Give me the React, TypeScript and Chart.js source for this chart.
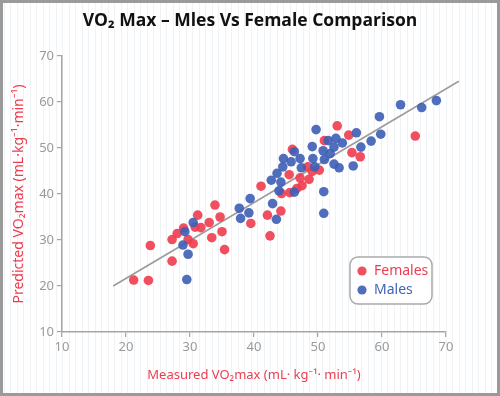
import { useEffect, useRef } from "react";
import { Chart, registerables } from "chart.js";

Chart.register(...registerables);

const TITLE = "VO₂ Max – Mles Vs Female Comparison";
const X_TITLE = "Measured VO₂max (mL· kg⁻¹· min⁻¹)";
const Y_TITLE = "Predicted VO₂max (mL·kg⁻¹·min⁻¹)";
const FEMALE_LABEL = "Females";
const MALE_LABEL = "Males";

const X_TICKS = [10, 20, 30, 40, 50, 60, 70];
const Y_TICKS = [10, 20, 30, 40, 50, 60, 70];

const femalesX = [21.2, 23.5, 23.8, 27.2, 27.2, 28.0, 29.0, 29.7, 30.5, 30.8, 31.2, 31.7, 33.0, 33.4, 33.9, 34.7, 35.0, 35.4, 39.5, 41.1, 42.1, 42.5, 44.2, 44.3, 45.6, 46.7, 47.5, 48.6, 47.2, 45.5, 48.4, 49.1, 50.2, 46.0, 51.0, 53.0, 54.8, 55.3, 56.6, 65.2];
const femalesY = [21.3, 21.2, 28.8, 25.4, 30.1, 31.4, 32.6, 30.1, 29.2, 32.8, 35.4, 32.7, 33.8, 30.5, 37.6, 35.0, 31.8, 27.9, 33.6, 41.7, 35.4, 30.9, 36.3, 40.1, 40.3, 41.2, 41.8, 43.2, 43.5, 44.2, 45.9, 44.9, 45.2, 49.7, 51.6, 54.8, 52.8, 49.0, 48.1, 52.6];

const malesX = [29.5, 29.7, 28.9, 29.2, 30.5, 37.7, 37.9, 39.2, 39.4, 42.7, 42.9, 43.5, 43.6, 43.9, 44.2, 44.5, 44.6, 45.8, 46.3, 46.3, 47.2, 47.4, 49.2, 49.1, 49.5, 49.7, 50.8, 50.9, 50.9, 51.0, 51.6, 51.9, 52.5, 52.5, 52.8, 53.3, 53.8, 55.5, 56.0, 56.7, 58.3, 59.6, 59.8, 62.9, 66.2, 68.5];
const malesY = [21.4, 26.9, 28.9, 31.8, 33.8, 36.9, 34.7, 35.9, 39.0, 43.0, 37.9, 34.5, 44.5, 40.7, 42.6, 45.9, 47.7, 47.0, 49.2, 40.4, 47.7, 45.7, 47.7, 50.3, 45.9, 54.0, 49.4, 40.5, 35.8, 47.5, 51.6, 48.8, 50.2, 46.5, 52.1, 45.7, 51.1, 46.1, 53.3, 50.2, 51.5, 56.8, 53.0, 59.4, 58.8, 60.3];

const trendX = [18, 72];
const trendY = [20, 64.5];

const RED = "rgba(240, 60, 78, 0.9)";
const BLUE = "rgba(62, 94, 182, 0.9)";
const RED_TEXT = "#ec3d50";
const BLUE_TEXT = "#4363b5";

const titlePlugin = {
  id: "customTitle",
  afterDraw(chart: any) {
    const { ctx, width } = chart;
    ctx.save();
    ctx.font = "bold 17.5px 'Open Sans', sans-serif";
    ctx.fillStyle = "#111111";
    ctx.textAlign = "center";
    ctx.textBaseline = "middle";
    ctx.fillText(TITLE, width / 2, 21);
    ctx.restore();
  },
};

const legendBoxPlugin = {
  id: "legendBox",
  afterDatasetsDraw(chart: any) {
    const { ctx, chartArea } = chart;
    const x = chartArea.right - 96;
    const y = chartArea.bottom - 75;
    const w = 82;
    const h = 47;
    ctx.save();
    ctx.beginPath();
    ctx.roundRect(x, y, w, h, 8);
    ctx.fillStyle = "#ffffff";
    ctx.fill();
    ctx.lineWidth = 1.5;
    ctx.strokeStyle = "#aaaaaa";
    ctx.stroke();
    const items = [
      { label: chart.data.datasets[0].label, color: RED, text: RED_TEXT },
      { label: chart.data.datasets[1].label, color: BLUE, text: BLUE_TEXT },
    ];
    ctx.font = "14px 'Noto Sans', 'Open Sans', sans-serif";
    ctx.textBaseline = "middle";
    items.forEach((it, i) => {
      const cy = y + 14 + i * 19;
      ctx.beginPath();
      ctx.arc(x + 12, cy, 4.6, 0, Math.PI * 2);
      ctx.fillStyle = it.color;
      ctx.fill();
      ctx.fillStyle = it.text;
      ctx.fillText(it.label, x + 24, cy);
    });
    ctx.restore();
  },
};

const frameBgPlugin = {
  id: "frameBg",
  beforeDraw(chart: any) {
    const { ctx, width, height } = chart;
    ctx.save();
    ctx.fillStyle = "#ffffff";
    ctx.fillRect(0, 0, width, height);
    ctx.strokeStyle = "#f0f3f6";
    ctx.lineWidth = 1;
    for (let sx = 3.5; sx < width; sx += 6.5) {
      ctx.beginPath();
      ctx.moveTo(Math.round(sx) + 0.5, 0);
      ctx.lineTo(Math.round(sx) + 0.5, height);
      ctx.stroke();
    }
    ctx.restore();
  },
  afterDraw(chart: any) {
    const { ctx, width, height } = chart;
    ctx.save();
    ctx.strokeStyle = "#9a9a9a";
    ctx.lineWidth = 3;
    ctx.strokeRect(1.5, 1.5, width - 3, height - 3);
    ctx.restore();
  },
};

export default function App() {
  const ref = useRef<HTMLCanvasElement>(null);

  useEffect(() => {
    document.body.style.margin = "0";
    const canvas = ref.current!;
    const females = femalesX.map((x, i) => ({ x, y: femalesY[i] }));
    const males = malesX.map((x, i) => ({ x, y: malesY[i] }));
    const trend = trendX.map((x, i) => ({ x, y: trendY[i] }));

    const tickFont = { family: "'Noto Sans', 'Open Sans', sans-serif", size: 13 };

    const chart = new Chart(canvas, {
      type: "scatter",
      data: {
        datasets: [
          {
            label: FEMALE_LABEL,
            data: females,
            backgroundColor: RED,
            borderWidth: 0,
            pointRadius: 4.8,
            order: 1,
          },
          {
            label: MALE_LABEL,
            data: males,
            backgroundColor: BLUE,
            borderWidth: 0,
            pointRadius: 4.8,
            order: 0,
          },
          {
            label: "trend",
            type: "line",
            data: trend,
            borderColor: "#9c9c9c",
            borderWidth: 1.6,
            pointRadius: 0,
            fill: false,
            clip: false,
            order: 2,
          } as any,
        ],
      },
      options: {
        animation: false,
        responsive: false,
        maintainAspectRatio: false,
        layout: { padding: { left: 7, right: 54, top: 56, bottom: 10 } },
        plugins: {
          legend: { display: false },
          tooltip: { enabled: false },
          title: { display: false },
        },
        scales: {
          x: {
            type: "linear",
            min: X_TICKS[0],
            max: X_TICKS[X_TICKS.length - 1],
            afterBuildTicks: (s: any) => {
              s.ticks = X_TICKS.map((v) => ({ value: v }));
            },
            afterFit: (s: any) => {
              s.height = 54;
            },
            border: { display: true, color: "#a6a6a6", width: 1.5 },
            grid: { display: true, drawOnChartArea: false, drawTicks: true, tickLength: 5, color: "#a6a6a6", lineWidth: 1.2 },
            ticks: { color: "#9a9a9a", font: tickFont, padding: 2, maxRotation: 0 },
            title: {
              display: true,
              text: X_TITLE,
              color: RED_TEXT,
              font: { family: "'Noto Sans', 'Open Sans', sans-serif", size: 13 },
              padding: { top: 6, bottom: 3 },
            },
          },
          y: {
            type: "linear",
            min: Y_TICKS[0],
            max: Y_TICKS[Y_TICKS.length - 1],
            afterBuildTicks: (s: any) => {
              s.ticks = Y_TICKS.map((v) => ({ value: v }));
            },
            afterFit: (s: any) => {
              s.width = 55;
            },
            border: { display: true, color: "#a6a6a6", width: 1.5 },
            grid: { display: true, drawOnChartArea: false, drawTicks: true, tickLength: 5, color: "#a6a6a6", lineWidth: 1.2 },
            ticks: { color: "#9a9a9a", font: tickFont, padding: 3 },
            title: {
              display: true,
              text: Y_TITLE,
              color: RED_TEXT,
              font: { family: "'Noto Sans', 'Open Sans', sans-serif", size: 14 },
              padding: { top: 4, bottom: 0 },
            },
          },
        },
      },
      plugins: [frameBgPlugin, legendBoxPlugin, titlePlugin],
    } as any);

    return () => chart.destroy();
  }, []);

  return (
    <div style={{ position: "absolute", left: 0, top: 0, width: 500, height: 396 }}>
      <canvas ref={ref} width={500} height={396} style={{ width: 500, height: 396, display: "block" }} />
    </div>
  );
}
